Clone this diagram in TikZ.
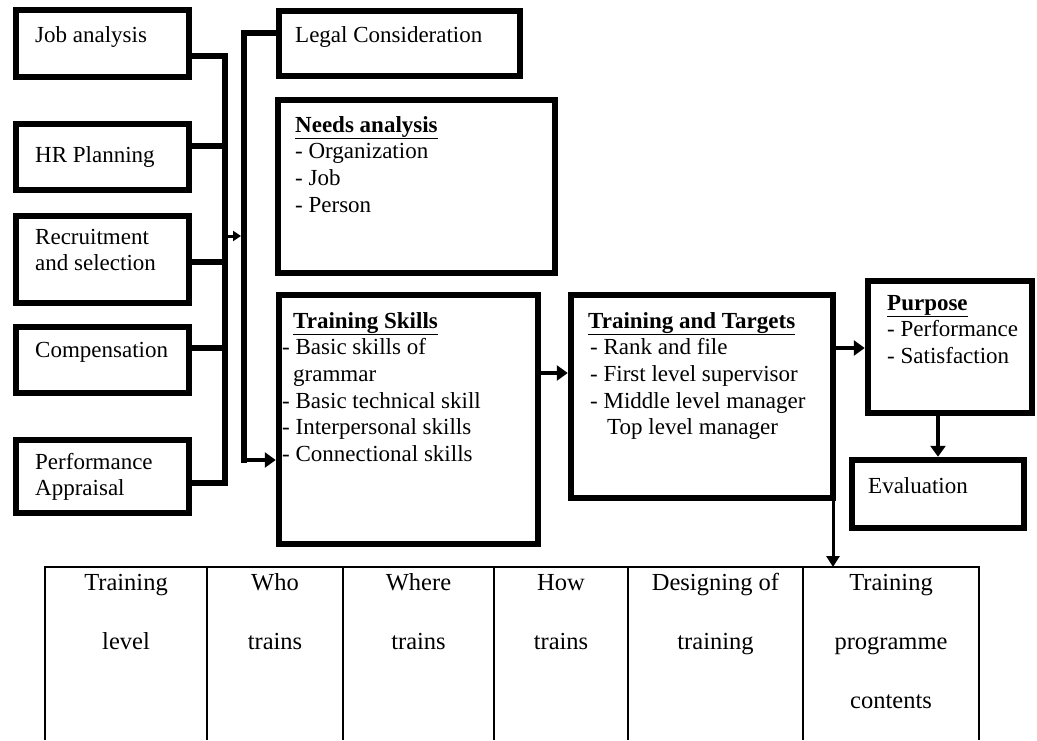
\documentclass[tikz,border=0pt]{standalone}
\usepackage{fontspec}
\setmainfont{Liberation Serif}
\usetikzlibrary{arrows.meta}
% strut that fixes the first baseline of every label below its top edge
\newcommand\leadin{\rule{0pt}{17pt}}
\newcommand\leadcell{\rule{0pt}{18pt}}
\begin{document}
\begin{tikzpicture}[x=1pt,y=-1pt,
  box/.style={draw, line width=6.5pt, rectangle, inner sep=0pt},
  label/.style={anchor=north west, inner sep=0pt, align=left,
    font=\fontsize{23}{26.6}\selectfont},
  cell/.style={anchor=north, inner sep=0pt, align=center,
    font=\fontsize{24.5}{59}\selectfont},
  bus/.style={line width=6pt, line cap=rect},
  arr/.style={line width=4pt, -{Triangle[length=11pt,width=15pt]}},
  arrthin/.style={line width=3pt, -{Triangle[length=11pt,width=13pt]}},
  grid/.style={line width=1.6pt}
]
\useasboundingbox (0,0) rectangle (1037,740);

% ---- input boxes on the left
\node[box, minimum width=173pt, minimum height=67pt] (ja)   at (102.5,43.5) {};
\node[box, minimum width=173pt, minimum height=66pt] (hr)   at (102.5,157) {};
\node[box, minimum width=173pt, minimum height=87pt] (rs)   at (102.5,259.5) {};
\node[box, minimum width=173pt, minimum height=66pt] (comp) at (102.5,360) {};
\node[box, minimum width=173pt, minimum height=73pt] (pa)   at (102.5,476.5) {};

\node[label] (ja-t)   at (35,25)  {\leadin Job analysis};
\node[label] (hr-t)   at (35,145) {\leadin HR Planning};
\node[label] (rs-t)   at (35,227) {\leadin Recruitment\\and selection};
\node[label] (comp-t) at (35,340) {\leadin Compensation};
\node[label] (pa-t)   at (35,452) {\leadin Performance\\Appraisal};

% ---- middle column
\node[box, minimum width=241pt, minimum height=65pt]  (legal)  at (399.5,43.5) {};
\node[box, minimum width=277pt, minimum height=173pt] (needs)  at (416.5,186.5) {};
\node[box, minimum width=259pt, minimum height=249pt] (skills) at (408.5,419.5) {};

\node[label] (legal-t) at (295,25) {\leadin Legal Consideration};
\node[label] (needs-t) at (295,115)
  {\leadin\underline{\textbf{Needs analysis}}\\- Organization\\- Job\\- Person};
\node[label] (skills-t) at (282,311)
  {\leadin\hspace*{11pt}\underline{\textbf{Training Skills}}\\
   - Basic skills of\\
   \hspace*{11pt}grammar\\
   - Basic technical skill\\
   - Interpersonal skills\\
   - Connectional skills};

% ---- right part
\node[box, minimum width=262pt, minimum height=203pt] (tt)      at (702,396.5) {};
\node[box, minimum width=164pt, minimum height=132pt] (purpose) at (950,347) {};
\node[box, minimum width=172pt, minimum height=68pt]  (eval)    at (938,494) {};

\node[label] (tt-t) at (588,311)
  {\leadin\underline{\textbf{Training and Targets}}\\
   \hspace*{2pt}- Rank and file\\
   \hspace*{2pt}- First level supervisor\\
   \hspace*{2pt}- Middle level manager\\
   \hspace*{19pt}Top level manager};
\node[label] (purpose-t) at (887,293)
  {\leadin\underline{\textbf{Purpose}}\\- Performance\\- Satisfaction};
\node[label] (eval-t) at (868,476) {\leadin Evaluation};

% ---- first collecting line
\coordinate (jL) at (225,56);
\coordinate (hL) at (225,146);
\coordinate (rL) at (225,262);
\coordinate (cL) at (225,348);
\coordinate (pL) at (225,483);
\draw[bus] (ja.east |- jL) -- (jL) -- (pL) -- (pa.east |- pL);
\draw[bus] (hr.east |- hL) -- (hL);
\draw[bus] (rs.east |- rL) -- (rL);
\draw[bus] (comp.east |- cL) -- (cL);

% ---- link to the second collecting line
\coordinate (mA) at (225,236);
\coordinate (mB) at (241,236);
\draw[line width=3pt, -{Triangle[length=8pt,width=10pt]}] (mA) -- (mB);

\coordinate (bT) at (244,33);
\coordinate (bB) at (244,460);
\draw[bus] (legal.west |- bT) -- (bT) -- (bB);
\draw[arr] (bB) -- (skills.west |- bB);

% ---- flow to the right
\coordinate (r1) at (555,373);
\coordinate (r2) at (850,348);
\coordinate (r3) at (938,440);
\draw[arr] (skills.east |- r1) -- (tt.west |- r1);
\draw[arr] (tt.east |- r2) -- (purpose.west |- r2);
\draw[arr] (purpose.south -| r3) -- (eval.north -| r3);

% ---- table of programme design
\coordinate (tblIn) at (833,567);
\draw[grid] (45,740) -- (45,567) -- (979,567) -- (979,740);
\foreach \cx in {207,343,494,628,803}
  \draw[grid] (\cx,567) -- (\cx,740);
\draw[arrthin] (tt.south -| tblIn) -- (tblIn);

\node[cell] (c1) at (126,572)   {\leadcell Training\\level};
\node[cell] (c2) at (275,572)   {\leadcell Who\\trains};
\node[cell] (c3) at (418.5,572) {\leadcell Where\\trains};
\node[cell] (c4) at (561,572)   {\leadcell How\\trains};
\node[cell] (c5) at (715.5,572) {\leadcell Designing of\\training};
\node[cell] (c6) at (891,572)   {\leadcell Training\\programme\\contents};
\end{tikzpicture}
\end{document}
